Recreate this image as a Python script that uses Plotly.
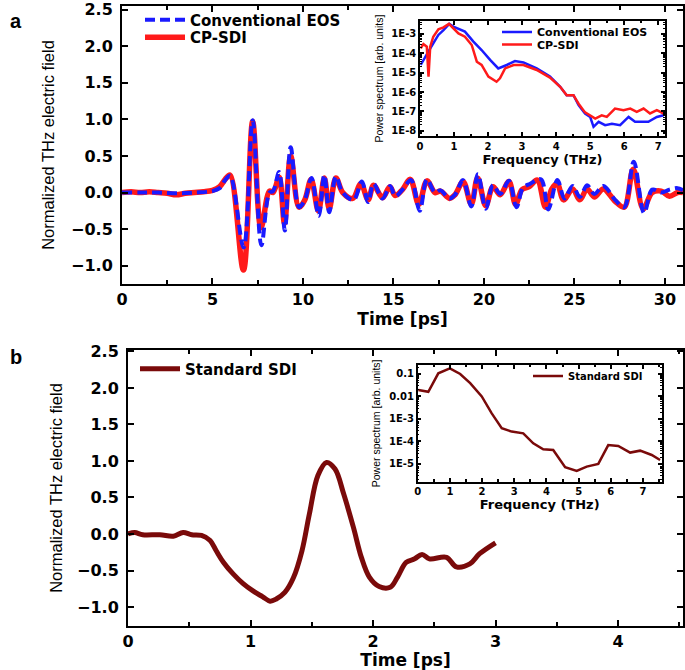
import plotly.graph_objects as go

# ---------------- Panel a: time traces ----------------
eos_t = [0, 1, 2, 3, 4, 5.0, 5.4, 5.7, 5.97, 6.72, 7.22, 7.7, 8.15, 8.35, 8.68, 9.0, 9.32, 9.78, 10.1,
         10.47, 10.87, 11.18, 11.45, 11.82, 12.2, 12.8, 13.25, 13.6, 13.9, 14.4, 14.82, 15.1, 15.5,
         15.98, 16.45, 16.85, 17.3, 17.6, 18.1, 18.4, 18.85, 19.3, 19.67, 20.1, 20.5, 20.9, 21.38,
         21.8, 22.15, 22.55, 23.15, 23.55, 24.06, 24.45, 24.9, 25.3, 25.7, 26.1, 26.6, 27.25, 27.75,
         28.28, 28.85, 29.3, 29.8, 30.25, 30.7, 31.0]
eos_v = [0.0, 0.0, 0.0, -0.01, 0.0, 0.02, 0.06, 0.17, 0.23, -0.75, 0.99, -0.72, 0.0, 0.02, 0.28, -0.52,
         0.62, -0.2, -0.1, 0.2, -0.32, 0.24, -0.27, 0.22, 0.0, -0.1, 0.15, -0.13, 0.12, -0.08, 0.09,
         -0.05, 0.04, 0.17, -0.25, 0.18, 0.0, 0.03, -0.08, -0.03, 0.17, -0.19, 0.25, -0.22, 0.1, -0.02,
         0.16, -0.2, 0.06, 0.12, 0.18, -0.23, 0.17, -0.08, 0.09, -0.06, 0.1, -0.02, 0.09, -0.1, -0.2,
         0.42, -0.28, 0.04, 0.0, 0.04, 0.06, 0.03]

sdi_t = [0, 0.5, 1.0, 1.5, 2.0, 2.5, 3.0, 3.5, 4.0, 4.5, 5.0, 5.4, 5.7, 5.97, 6.71, 7.22, 7.68, 8.15,
         8.35, 8.68, 8.98, 9.32, 9.78, 10.1, 10.45, 10.85, 11.18, 11.45, 11.82, 12.2, 12.75, 13.2,
         13.6, 13.9, 14.4, 14.8, 15.1, 15.5, 15.93, 16.4, 16.85, 17.3, 17.6, 18.1, 18.4, 18.85, 19.3,
         19.65, 20.1, 20.5, 20.9, 21.38, 21.75, 22.1, 22.5, 22.95, 23.4, 23.75, 24.05, 24.4, 24.9,
         25.3, 25.7, 26.1, 26.6, 27.25, 27.75, 28.25, 28.8, 29.3, 29.8, 30.25, 30.7, 31.0]
sdi_v = [0.0, 0.01, 0.0, 0.01, 0.0, -0.01, -0.03, -0.01, 0.0, 0.01, 0.03, 0.08, 0.18, 0.24, -1.06,
         0.97, -0.48, 0.02, 0.0, 0.21, -0.42, 0.5, -0.2, -0.1, 0.18, -0.25, 0.2, -0.22, 0.2, 0.0,
         -0.08, 0.12, -0.1, 0.1, -0.07, 0.08, -0.04, 0.04, 0.18, -0.16, 0.16, 0.0, 0.02, -0.08, -0.03,
         0.15, -0.16, 0.2, -0.18, 0.08, -0.03, 0.15, -0.16, 0.04, 0.08, 0.17, -0.2, 0.05, 0.12, -0.1,
         0.05, -0.1, 0.05, -0.06, 0.05, -0.12, -0.2, 0.32, -0.22, 0.0, 0.02, -0.05, 0.0, 0.0]

# ---------------- Panel a inset: spectra ----------------
eos_f = [0.02, 0.15, 0.25, 0.39, 0.54, 0.69, 0.86, 0.98, 1.18, 1.32, 1.57, 1.81, 2.06, 2.3, 2.55,
         2.79, 3.04, 3.43, 3.82, 4.12, 4.31, 4.51, 4.66, 4.85, 5.0, 5.1, 5.25, 5.44, 5.64, 5.88,
         6.13, 6.32, 6.52, 6.71, 6.96, 7.16]
eos_p = [2.5e-5, 6.8e-5, 1.26e-4, 3.3e-4, 8.9e-4, 1.58e-3, 3.3e-3, 2.4e-3, 1.74e-3, 1.32e-3, 4.0e-4,
         1.48e-4, 4.6e-5, 1.66e-5, 2.5e-5, 4.0e-5, 3.4e-5, 1.66e-5, 6.3e-6, 1.86e-6, 6.9e-7, 6.9e-7,
         2.1e-7, 7.8e-8, 5.2e-8, 1.6e-8, 2.9e-8, 1.95e-8, 2.3e-8, 1.95e-8, 5.2e-8, 2.9e-8, 2.9e-8,
         2.9e-8, 5.2e-8, 6.3e-8]
sdi_f = [0.02, 0.1, 0.2, 0.25, 0.3, 0.39, 0.54, 0.69, 0.85, 0.98, 1.13, 1.32, 1.52, 1.67, 1.81, 2.01,
         2.25, 2.35, 2.5, 2.75, 3.04, 3.43, 3.82, 4.12, 4.31, 4.51, 4.66, 4.85, 5.0, 5.15, 5.34,
         5.49, 5.73, 5.98, 6.18, 6.37, 6.57, 6.76, 6.96, 7.16]
sdi_p = [1.8e-4, 3.0e-4, 2.2e-4, 6.3e-6, 2.2e-4, 7.2e-4, 1.74e-3, 2.2e-3, 3.3e-3, 2.0e-3, 1.07e-3,
         7.2e-4, 2.7e-4, 3.7e-5, 2.5e-5, 6.3e-6, 3.4e-6, 5.1e-6, 1.66e-5, 2.5e-5, 2.5e-5, 1.38e-5,
         5.6e-6, 1.86e-6, 6.9e-7, 6.9e-7, 2.5e-7, 8.9e-8, 6.3e-8, 4.3e-8, 6.3e-8, 5.2e-8, 1.41e-7,
         1.15e-7, 1.41e-7, 9.5e-8, 1.41e-7, 7.8e-8, 1.15e-7, 7.8e-8]

# ---------------- Panel b: standard SDI ----------------
std_t = [0, 0.055, 0.12, 0.26, 0.37, 0.45, 0.52, 0.6, 0.67, 0.72, 0.78, 0.86, 0.94, 1.02, 1.1, 1.16,
         1.21, 1.28, 1.35, 1.42, 1.48, 1.55, 1.62, 1.69, 1.76, 1.84, 1.905, 1.97, 2.05, 2.14, 2.2,
         2.27, 2.34, 2.4, 2.46, 2.6, 2.68, 2.79, 2.87, 3.0]
std_v = [0.0, 0.02, -0.01, -0.01, -0.03, 0.02, -0.01, -0.02, -0.09, -0.23, -0.39, -0.55, -0.68,
         -0.78, -0.86, -0.92, -0.89, -0.8, -0.6, -0.23, 0.27, 0.8, 0.98, 0.89, 0.55, 0.09, -0.32,
         -0.59, -0.72, -0.73, -0.59, -0.39, -0.34, -0.28, -0.34, -0.32, -0.45, -0.41, -0.27, -0.12]

std_f = [0.02, 0.33, 0.64, 1.0, 1.32, 1.63, 1.99, 2.3, 2.61, 2.92, 3.28, 3.59, 3.9, 4.21, 4.58, 4.94,
         5.25, 5.61, 5.92, 6.23, 6.6, 6.91, 7.27, 7.53]
std_p = [0.0195, 0.0162, 0.107, 0.178, 0.1, 0.039, 0.01, 1.78e-3, 3.9e-4, 2.75e-4, 2.3e-4, 8.3e-5,
         4.5e-5, 4.2e-5, 7.1e-6, 4.9e-6, 7.6e-6, 1.0e-5, 6.9e-5, 6.3e-5, 3.2e-5, 3.9e-5, 2.5e-5, 1.5e-5]

inset_a_tickvals = [1e-8, 1e-7, 1e-6, 1e-5, 1e-4, 1e-3]
inset_a_ticktext = ["1E-8", "1E-7", "1E-6", "1E-5", "1E-4", "1E-3"]
inset_b_tickvals = [1e-5, 1e-4, 1e-3, 1e-2, 1e-1]
inset_b_ticktext = ["1E-5", "1E-4", "1E-3", "0.01", "0.1"]

BLUE = "#1a1aff"
RED = "#ff1a1a"
MAROON = "#7a0a0a"
W, H = 685, 670


def px(x):
    return x / W


def py(y):
    return 1 - y / H


BOLD = "DejaVu Sans"
REG = "Liberation Sans, Arial"

fig = go.Figure()

fig.add_trace(go.Scatter(x=sdi_t, y=sdi_v, mode="lines", name="CP-SDI", legend="legend2",
                         line=dict(color=RED, width=5.5, shape="spline"), xaxis="x", yaxis="y"))
fig.add_trace(go.Scatter(x=eos_t, y=eos_v, mode="lines", name="Conventional EOS", legend="legend",
                         line=dict(color=BLUE, width=4, dash="10px,5px", shape="spline"),
                         xaxis="x", yaxis="y"))
fig.add_trace(go.Scatter(x=eos_f, y=eos_p, mode="lines", name="Conventional EOS", legend="legend3",
                         line=dict(color=BLUE, width=2.5), xaxis="x2", yaxis="y2"))
fig.add_trace(go.Scatter(x=sdi_f, y=sdi_p, mode="lines", name="CP-SDI", legend="legend4",
                         line=dict(color=RED, width=2.5), xaxis="x2", yaxis="y2"))
fig.add_trace(go.Scatter(x=std_t, y=std_v, mode="lines", name="Standard SDI", legend="legend5",
                         line=dict(color=MAROON, width=5, shape="spline"), xaxis="x3", yaxis="y3"))
fig.add_trace(go.Scatter(x=std_f, y=std_p, mode="lines", name="Standard SDI", legend="legend6",
                         line=dict(color=MAROON, width=2.5), xaxis="x4", yaxis="y4"))


def ax(domain, rng, anchor, size, lw, tl, **kw):
    d = dict(domain=domain, range=rng, anchor=anchor, showgrid=False, zeroline=False,
             showline=True, linecolor="black", linewidth=lw, mirror="ticks", automargin=False,
             ticks="inside", ticklen=tl, tickwidth=lw, tickcolor="black", ticklabeloverflow="allow",
             tickfont=dict(family=BOLD, size=size, color="black", weight="bold"))
    d.update(kw)
    return d


layout = dict(
    width=W, height=H, margin=dict(l=0, r=0, t=0, b=0, autoexpand=False),
    paper_bgcolor="white", plot_bgcolor="white", showlegend=True,
    xaxis=ax([px(122), px(683)], [0, 31.0], "y", 16, 2, 6, dtick=5, tick0=0,
             minor=dict(dtick=2.5, ticks="inside", ticklen=4, tickwidth=2, tickcolor="black"),
             title=dict(text="Time [ps]", font=dict(family=BOLD, size=17, color="black", weight="bold"),
                        standoff=1)),
    yaxis=ax([py(284), py(6)], [-1.25, 2.55], "x", 16, 2, 6, dtick=0.5, tick0=0, tickformat=".1f",
             ticklabelstandoff=4,
             title=dict(text="Normalized THz electric field",
                        font=dict(family=REG, size=16.5, color="black"), standoff=12)),
    xaxis2=ax([px(420), px(665)], [0, 7.2], "y2", 10, 1.5, 4, dtick=1, tick0=0,
              minor=dict(dtick=0.5, ticks="inside", ticklen=2.5, tickwidth=1.5, tickcolor="black"),
              title=dict(text="Frequency (THz)", font=dict(family=BOLD, size=13, color="black", weight="bold"),
                         standoff=0)),
    yaxis2=ax([py(136), py(21)], [-8.27, -2.33], "x2", 10, 1.5, 4, type="log",
              tickmode="array", tickvals=inset_a_tickvals, ticktext=inset_a_ticktext,
              minor=dict(ticks="inside", ticklen=2, tickwidth=1, tickcolor="black", dtick="D1"),
              title=dict(text="Power spectrum [arb. units]",
                         font=dict(family=REG, size=10.5, color="black"), standoff=6)),
    xaxis3=ax([px(128), px(683)], [0, 4.53], "y3", 16, 2, 6, dtick=1, tick0=0,
              minor=dict(dtick=0.5, ticks="inside", ticklen=4, tickwidth=2, tickcolor="black"),
              title=dict(text="Time [ps]", font=dict(family=BOLD, size=17, color="black", weight="bold"),
                         standoff=2)),
    yaxis3=ax([py(626), py(350)], [-1.26, 2.52], "x3", 16, 2, 6, dtick=0.5, tick0=0, tickformat=".1f",
              ticklabelstandoff=4,
              title=dict(text="Normalized THz electric field",
                         font=dict(family=REG, size=16.5, color="black"), standoff=10)),
    xaxis4=ax([px(417.7), px(661.7)], [0, 7.58], "y4", 10, 1.5, 4, dtick=1, tick0=0,
              minor=dict(dtick=0.5, ticks="inside", ticklen=2.5, tickwidth=1.5, tickcolor="black"),
              title=dict(text="Frequency (THz)", font=dict(family=BOLD, size=13, color="black", weight="bold"),
                         standoff=2)),
    yaxis4=ax([py(481.7), py(365)], [-5.79, -0.6], "x4", 10, 1.5, 4, type="log",
              tickmode="array", tickvals=inset_b_tickvals, ticktext=inset_b_ticktext,
              minor=dict(ticks="inside", ticklen=2, tickwidth=1, tickcolor="black", dtick="D1"),
              title=dict(text="Power spectrum [arb. units]",
                         font=dict(family=REG, size=10.5, color="black"), standoff=6)),
)


def leg(x, y, size, iw):
    return dict(x=px(x), y=py(y), xanchor="left", yanchor="middle", bgcolor="rgba(0,0,0,0)",
                borderwidth=0, itemwidth=iw,
                font=dict(family=BOLD, size=size, color="black", weight="bold"))


layout["legend"] = leg(140, 20, 15, 40)
layout["legend2"] = leg(140, 37.5, 15, 40)
layout["legend3"] = leg(497, 32, 11, 30)
layout["legend4"] = leg(497, 44.5, 11, 30)
layout["legend5"] = leg(135, 369, 15, 40)
layout["legend6"] = leg(528, 376, 10, 30)

layout["annotations"] = [
    dict(text="a", x=px(16), y=py(21), xref="paper", yref="paper", showarrow=False,
         xanchor="center", yanchor="middle",
         font=dict(family="Liberation Sans", size=20, color="black", weight="bold")),
    dict(text="b", x=px(16), y=py(357), xref="paper", yref="paper", showarrow=False,
         xanchor="center", yanchor="middle",
         font=dict(family="Liberation Sans", size=20, color="black", weight="bold")),
]

fig.update_layout(**layout)
fig.write_html("out.html", config={"displayModeBar": False},
               post_script="document.body.style.margin='0px';")
